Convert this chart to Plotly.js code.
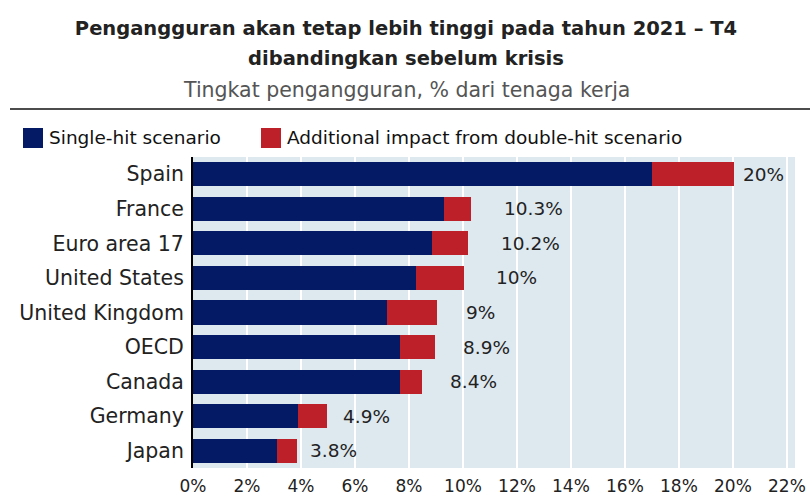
<!DOCTYPE html>
<html>
<head>
<meta charset="utf-8">
<script src="https://cdn.plot.ly/plotly-3.0.1.min.js"></script>
<style>html,body{margin:0;padding:0;background:#fff;}#chart{width:812px;height:503px;}</style>
</head>
<body>
<div id="chart"></div>
<script>
const countries = ['Spain','France','Euro area 17','United States','United Kingdom','OECD','Canada','Germany','Japan'];
const singleHit = [17.0, 9.3, 8.85, 8.25, 7.2, 7.65, 7.65, 3.9, 3.1];
const additional = [3.05, 1.0, 1.35, 1.8, 1.85, 1.3, 0.85, 1.05, 0.75];
const totalLabels = ['20%','10.3%','10.2%','10%','9%','8.9%','8.4%','4.9%','3.8%'];
const seriesNames = ['Single-hit scenario','Additional impact from double-hit scenario'];

const W = 812, H = 503;
const M = {l:193, r:17, t:157, b:35};
const PW = W - M.l - M.r, PH = H - M.t - M.b;
const px2x = p => (p - M.l) / PW;
const px2y = p => (H - M.b - p) / PH;
const XMAX = 22.3;

const FONT = 'DejaVu Sans, sans-serif';
const NAVY = '#051a64', RED = '#bd2029';

const traces = [
  {type:'bar', orientation:'h', y:countries, x:singleHit, name:seriesNames[0],
   marker:{color:NAVY, line:{width:0}}, hoverinfo:'skip', showlegend:false},
  {type:'bar', orientation:'h', y:countries, x:additional, name:seriesNames[1],
   marker:{color:RED, line:{width:0}}, hoverinfo:'skip', showlegend:false}
];

const annotations = [];
countries.forEach((c,i)=>{
  const tot = singleHit[i] + additional[i];
  annotations.push({x:Math.min(tot*1.11, XMAX-2.0), y:c, xref:'x', yref:'y', text:totalLabels[i],
    showarrow:false, xanchor:'left', yanchor:'middle', font:{family:FONT, size:18.5, color:'#222'}});
});
annotations.push({x:px2x(406), xref:'paper', y:px2y(90), yref:'paper', xanchor:'center', yanchor:'middle',
  text:'Tingkat pengangguran, % dari tenaga kerja', showarrow:false,
  font:{family:FONT, size:20.5, color:'#555'}});
// legend entries
const legX = [23, 261];
const shapes = [];
[NAVY, RED].forEach((col,i)=>{
  shapes.push({type:'rect', xref:'paper', yref:'paper', x0:px2x(legX[i]), x1:px2x(legX[i]+20),
    y0:px2y(148), y1:px2y(128), fillcolor:col, line:{width:0}});
  annotations.push({x:px2x(legX[i]+24), xref:'paper', y:px2y(138), yref:'paper', xanchor:'left', yanchor:'middle',
    text:seriesNames[i], showarrow:false, font:{family:FONT, size:18.5, color:'#111'}});
});
shapes.push({type:'line', xref:'paper', yref:'paper', x0:px2x(10), x1:px2x(810), y0:px2y(109), y1:px2y(109),
  line:{color:'#111', width:1.5}});

const layout = {
  width:W, height:H, margin:M,
  paper_bgcolor:'#fff', plot_bgcolor:'#dee8ef',
  barmode:'stack', bargap:0.3,
  font:{family:FONT, color:'#222'},
  title:{text:'<span style="font-size:19.5px"><b>Pengangguran akan tetap lebih tinggi pada tahun 2021 – T4</b></span><br><span style="font-size:19.5px"><b>dibandingkan sebelum krisis</b></span>',
    font:{family:FONT, size:23, color:'#222'}, x:0.5, xanchor:'center', xref:'container',
    y:1-35/H, yanchor:'top', yref:'container'},
  xaxis:{range:[0,XMAX], tick0:0, dtick:2, ticksuffix:'%', showgrid:true, gridcolor:'#fff', gridwidth:1.5,
    zeroline:false, showline:false, ticks:'', ticklabelstandoff:6, tickfont:{family:FONT, size:17, color:'#222'}, fixedrange:true},
  yaxis:{autorange:'reversed', showgrid:false, zeroline:false, showline:true, linecolor:'#000', linewidth:2,
    ticks:'', ticklabelstandoff:3, tickfont:{family:FONT, size:20.5, color:'#222'}, fixedrange:true},
  annotations:annotations, shapes:shapes
};

Plotly.newPlot('chart', traces, layout, {displayModeBar:false, staticPlot:true});
</script>
</body>
</html>
